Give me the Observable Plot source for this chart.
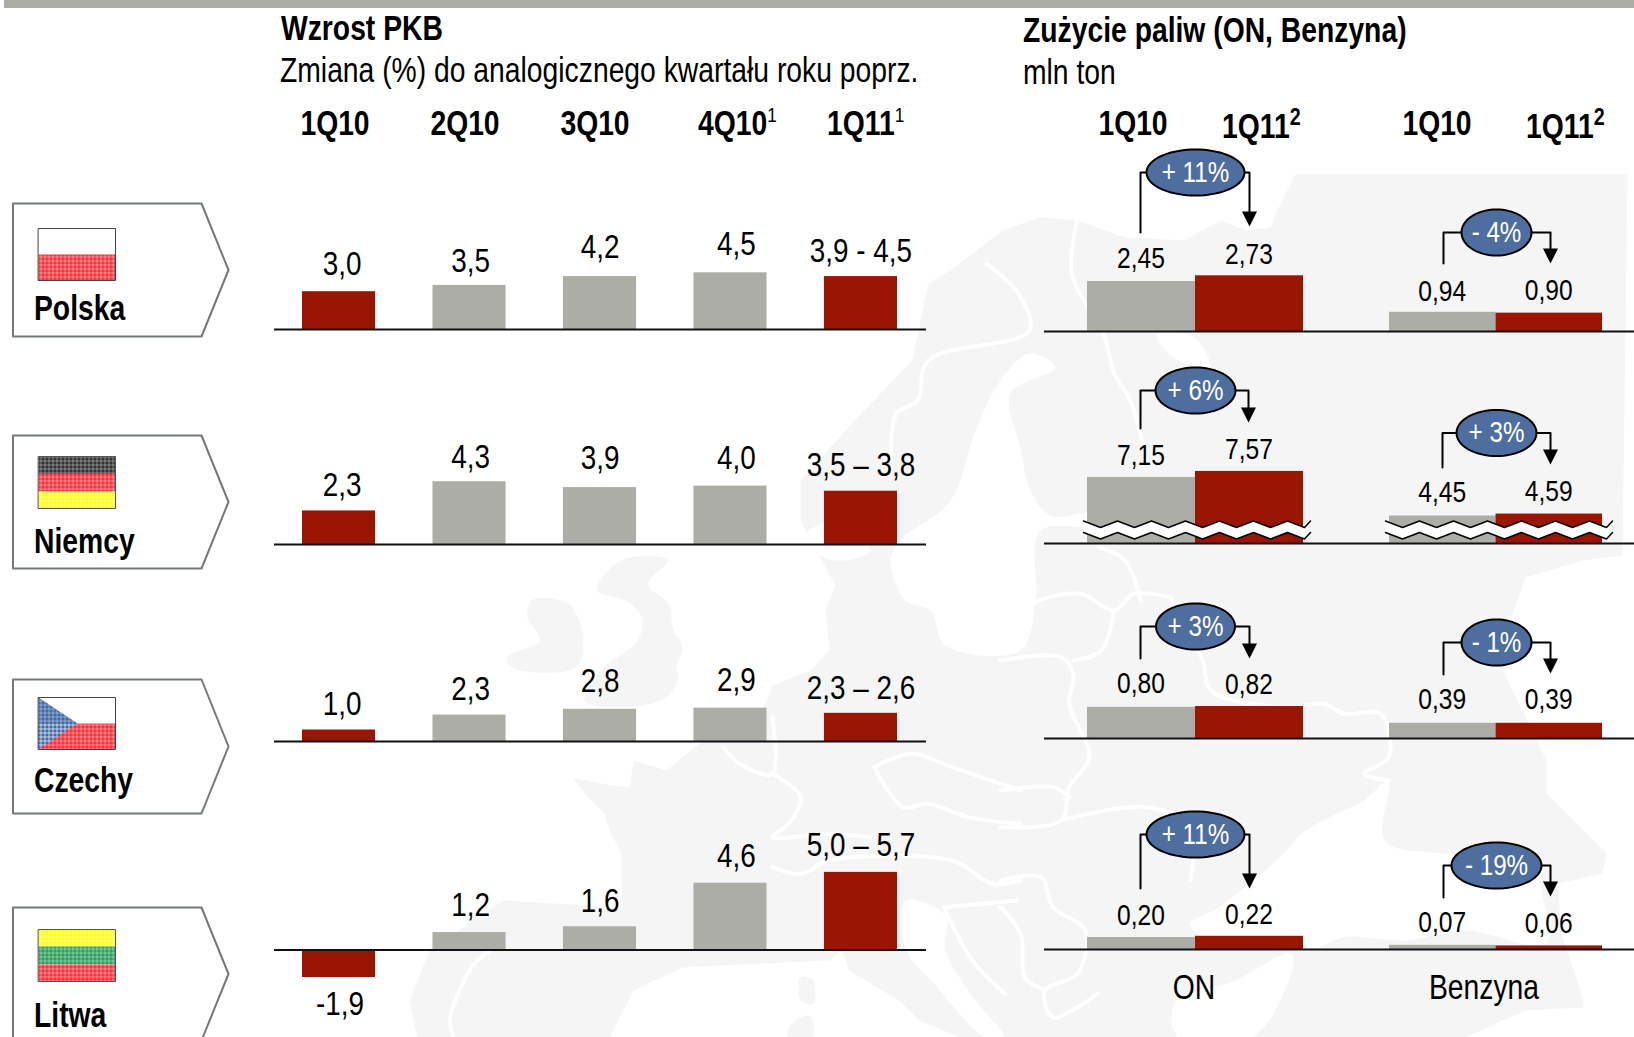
<!DOCTYPE html>
<html lang="pl">
<head>
<meta charset="utf-8">
<script src="https://cdn.jsdelivr.net/npm/d3@7"></script>
<script src="https://cdn.jsdelivr.net/npm/@observablehq/plot@0.6"></script>
<style>
  html,body{margin:0;padding:0;background:#fff;}
  body{width:1634px;height:1037px;overflow:hidden;position:relative;font-family:"Liberation Sans",sans-serif;color:#000;}
  .layer{position:absolute;}
  .layer svg{overflow:visible;display:block;}
  .t{position:absolute;white-space:nowrap;line-height:1;font-size:34.5px;transform-origin:left center;transform:scaleX(.82);}
  .t.c{transform-origin:center;transform:translateX(-50%) scaleX(.82);}
  .b{font-weight:700;}
  sup{font-size:21px;font-weight:400;line-height:0;vertical-align:baseline;position:relative;top:-13px;}
  sup.b{font-weight:700;font-size:24px;}
</style>
</head>
<body>
<svg width="0" height="0" style="position:absolute">
  <defs><pattern id="halftone" width="4" height="4" patternUnits="userSpaceOnUse">
    <path d="M0 .5H4M.5 0V4" stroke="#fff" stroke-opacity=".38" stroke-width="1"/>
  </pattern></defs>
</svg>
<script>
// ---------- chart values ----------
const quarters = ["1Q10","2Q10","3Q10","4Q10","1Q11"];
const countries = ["Polska","Niemcy","Czechy","Litwa"];
const gdpPolska = [3.0,3.5,4.2,4.5,4.2];
const gdpNiemcy = [2.3,4.3,3.9,4.0,3.65];
const gdpCzechy = [1.0,2.3,2.8,2.9,2.45];
const gdpLitwa  = [-1.9,1.2,1.6,4.6,5.35];
const gdpLabelsPolska = ["3,0","3,5","4,2","4,5","3,9 - 4,5"];
const gdpLabelsNiemcy = ["2,3","4,3","3,9","4,0","3,5 – 3,8"];
const gdpLabelsCzechy = ["1,0","2,3","2,8","2,9","2,3 – 2,6"];
const gdpLabelsLitwa  = ["-1,9","1,2","1,6","4,6","5,0 – 5,7"];
const fuelPeriods = ["1Q10","1Q11"];
const onValues = [[2.45,2.73],[7.15,7.57],[0.80,0.82],[0.20,0.22]];
const benzynaValues = [[0.94,0.90],[4.45,4.59],[0.39,0.39],[0.07,0.06]];
const onChanges = ["+ 11%","+ 6%","+ 3%","+ 11%"];
const benzynaChanges = ["- 4%","+ 3%","- 1%","- 19%"];
const fmt = v => v.toFixed(2).replace(".",",");

// ---------- colours & layout (not data) ----------
const GREY="#ADADA8", RED="#9B1602", BLUE="#4D6E9E", LAND="#F5F5F5";
const FONT='"Liberation Sans",sans-serif', FS=34.5;
const barColors = [RED,GREY,GREY,GREY,RED];
const gdpRows = [
  {vals:gdpPolska,labels:gdpLabelsPolska,base:329,k:12.6,lift:[17,13,19,18,15],nudge:[3,1,0,6,0]},
  {vals:gdpNiemcy,labels:gdpLabelsNiemcy,base:544,k:14.6,lift:[15,14,19,17,15],nudge:[3,1,0,6,0]},
  {vals:gdpCzechy,labels:gdpLabelsCzechy,base:741,k:11.5,lift:[15,15,17,17,14],nudge:[3,1,0,6,0]},
  {vals:gdpLitwa,labels:gdpLabelsLitwa,base:949,k:14.5,lift:[-37,17,15,16,16],nudge:[1,1,0,6,0]}
];
const fuelRows = [
  {base:331,k:20.4,lo:0,lift:[[13.5,11.5],[11,13]]},
  {base:543,k:14.3,lo:2.53,lift:[[12,12],[14,13]]},
  {base:738,k:39,lo:0,lift:[[14,13],[14,14]]},
  {base:949,k:60,lo:0,lift:[[13,12],[13,13]]}
];

function addPlot(left, top, el){ el.classList.add("layer"); el.style.left=left+"px"; el.style.top=top+"px"; document.body.appendChild(el); }
function label(html,x,baseline,opts={}){
  const d=document.createElement("div");
  d.className="t"+(opts.bold?" b":"")+(opts.center?" c":"");
  d.innerHTML=html;
  d.style.left=x+"px";
  d.style.top=(baseline+1-FS*0.8465)+"px";
  document.body.appendChild(d);
}

// ---------- background map (decoration, hand traced) ----------
const z6=a=>a.map(([x,y])=>[800+x/1.88,160+y/3]);
const z7=a=>a.map(([x,y])=>[380+x/2.45,560+y/3]);
const z8=a=>a.map(([x,y])=>[1000+x/2.473,560+y/3]);
const mainland=[
 ...z6([[240,370],[290,320],[380,210],[450,170],[520,180],[610,230],[720,240],[790,180],[840,210],[885,200],[890,170],[930,42]]),
 [1627,174],[1622,555],[1582,560],[1525,577],[1513,610],[1501,667],[1546,760],[1546,793],[1606,853],[1602,873],[1558,883],[1560,930],[1582,997],[1582,1007],[1525,1010],[1465,1037],
 [1004,1037],[960,1037],[919,1020],[898,1000],[849,970],[841,950],[829,960],[720,965],[682,967],[633,990],[609,1037],[417,1037],[409,1000],[429,950],[502,900],[621,907],[621,877],[621,853],[609,830],[604,813],[584,793],[572,777],[600,783],[629,787],[633,760],[666,770],[694,747],[702,740],[760,715],[772,685],[810,670],[829,650],[825,610],[835,585],[800,520],[800,480],[854,420],[912,360]
];
const landExtras=[
  z7([[370,120],[360,170],[390,240],[310,290],[320,320],[480,320],[495,220],[460,130]]), // Irlandia
  z7([[590,0],[705,0],[655,70],[705,130],[718,210],[740,260],[725,320],[730,350],[700,410],[600,440],[500,420],[540,330],[630,240],[640,170],[600,120],[530,90]]), // Wielka Brytania
  z7([[1030,1250],[1060,1260],[1060,1330],[1030,1320]]), z7([[1000,1400],[1050,1365],[1060,1430],[1000,1430]])
];
const seas=[
  [[1029,353],[1055,367],[1010,393],[1020,447],[1030,490],[1050,515],[1100,512],[1100,525],[1040,530],[1035,600],[1020,650],[945,645],[930,610],[905,600],[890,560],[900,540],[950,500],[975,430],[1000,380]], // Bałtyk
  [[905,900],[945,915],[945,950],[975,1000],[1004,1037],[985,1037],[935,985],[906,950]], // Adriatyk
  z8([[960,660],[900,720],[830,760],[745,820],[695,885],[540,1040],[470,1090],[500,1130],[760,1170],[850,1130],[1000,1140],[1150,1110],[1350,1150],[1340,1000],[1330,900],[1100,880],[950,840]]), // M. Czarne
  z8([[720,1180],[580,1260],[430,1330],[440,1431],[620,1431],[700,1300]]), // Egejskie
  z6([[670,520],[740,530],[770,620],[700,590]]), // M. Białe
  [[800,540],[835,560],[870,550],[835,520]]
];
const borders=[
 z8([[60,140],[120,110],[200,100],[280,150],[330,100],[420,110]]),
 z8([[0,300],[150,290],[180,340],[170,430],[220,590],[170,680],[150,780],[0,800]]),
 z8([[280,150],[250,270],[180,300]]),
 z8([[420,110],[500,300],[520,390],[700,440],[800,430],[850,460],[940,460],[960,590],[900,640],[960,660]]),
 z8([[150,780],[360,740],[470,800],[470,960]]),
 z8([[0,690],[130,680],[170,710]]),
 z8([[0,960],[100,950],[130,1040],[210,1110],[190,1240],[110,1290],[130,1370],[240,1300]]),
 z8([[0,1040],[50,1120],[60,1250],[110,1290]]),
 z7([[840,560],[880,610],[960,640],[960,470]]),
 z7([[960,640],[1030,710],[1000,790],[960,830],[1100,820],[1200,830]]),
 z7([[1210,620],[1300,580],[1400,620],[1568,690]]),
 z7([[1210,620],[1280,740],[1340,730],[1440,770],[1568,790]]),
 z7([[960,920],[1030,940],[1100,900],[1400,900],[1500,970],[1568,960]]),
 z7([[180,1431],[170,1380],[190,1300],[230,1210],[270,1170]]),
 z7([[1380,1040],[1560,1020]]), z7([[1380,1040],[1450,1200],[1530,1300]]),
 z6([[350,310],[410,400],[430,510],[240,600],[220,720],[180,760],[170,900]]),
 z6([[520,180],[510,340],[570,520],[590,640],[620,720],[650,900]]),
 z6([[560,1160],[610,1200],[640,1320]])
];
const px={x:{type:"identity",axis:null},y:{type:"identity",axis:null}};
const poly=(pts,o)=>Plot.line(pts,{x:d=>d[0],y:d=>d[1],curve:"linear-closed",...o});
const open=(pts,o)=>Plot.line(pts,{x:d=>d[0],y:d=>d[1],...o});
addPlot(0,0,Plot.plot({width:1634,height:1037,margin:0,...px,style:{background:"transparent"},marks:[
  poly(mainland,{fill:LAND,stroke:"none"}),
  ...landExtras.map(p=>poly(p,{fill:LAND,stroke:"none",curve:"catmull-rom-closed"})),
  ...seas.map(p=>poly(p,{fill:"#fff",stroke:"none",curve:"catmull-rom-closed"})),
  ...borders.map(p=>open(p,{stroke:"#fff",strokeWidth:4,strokeLinejoin:"round",curve:"catmull-rom"}))
]}));

// ---------- GDP rows ----------
gdpRows.forEach(r=>{
  const h=Math.round((Math.max(...r.vals)+6-Math.min(0,...r.vals))*r.k)+20;
  const lo=Math.min(0,...r.vals)-20/r.k, hi=lo+h/r.k;
  const data=quarters.map((q,i)=>({q,v:r.vals[i],label:r.labels[i],color:barColors[i],lift:r.lift[i],nudge:r.nudge[i]}));
  addPlot(274,r.base-Math.round(hi*r.k),Plot.plot({
    width:652,height:h,margin:0,
    x:{type:"band",domain:quarters,range:[28,623],paddingInner:0.44,paddingOuter:0,round:false,axis:null},
    y:{domain:[lo,hi],range:[h,0],axis:null},
    style:{background:"transparent",overflow:"visible"},
    marks:[
      Plot.barY(data,{x:"q",y:"v",fill:"color"}),
      Plot.ruleY([0],{stroke:"#111",strokeWidth:2}),
      ...data.map(d=>Plot.text([d],{x:"q",y:"v",text:"label",fill:"#000",fontSize:34,fontFamily:FONT,lineAnchor:"bottom",dy:-d.lift,dx:d.nudge}))
    ]
  }));
});

// ---------- fuel rows ----------
const fuelPanels=[
  {vals:onValues,left:1044,width:302,range:[43,259]},
  {vals:benzynaValues,left:1346,width:288,range:[43,256]}
];
fuelRows.forEach((r,ri)=>{
  fuelPanels.forEach((p,pi)=>{
    const vs=p.vals[ri];
    const h=Math.round((Math.max(...vs)-r.lo)*r.k)+60;
    const data=fuelPeriods.map((q,i)=>({q,v:vs[i],label:fmt(vs[i]),color:i?RED:GREY,lift:r.lift[pi][i]}));
    addPlot(p.left,r.base-h,Plot.plot({
      width:p.width,height:h,margin:0,
      x:{type:"band",domain:fuelPeriods,range:p.range,padding:0,round:false,axis:null},
      y:{domain:[r.lo,r.lo+h/r.k],range:[h,0],axis:null},
      style:{background:"transparent",overflow:"visible"},
      marks:[
        Plot.rectY(data,{x:"q",y1:r.lo,y2:"v",fill:"color"}),
        Plot.ruleY([r.lo],{stroke:"#111",strokeWidth:2}),
        ...data.map(d=>Plot.text([d],{x:"q",y:"v",text:"label",fill:"#000",fontSize:30,fontFamily:FONT,lineAnchor:"bottom",dy:-d.lift,dx:-0.5}))
      ]
    }));
  });
});

// ---------- annotation overlay: callouts, breaks, country tabs, flags ----------
const calloutLayout=[
  {t:onChanges[0],cx:1195,cy:172,rx:49,ry:23,l:1140,lb:232,r:1249,tip:226},
  {t:benzynaChanges[0],cx:1496,cy:232,rx:35,ry:23,l:1443,lb:263,r:1550,tip:263},
  {t:onChanges[1],cx:1195,cy:390,rx:40,ry:23,l:1140,lb:428,r:1248,tip:422},
  {t:benzynaChanges[1],cx:1496,cy:432.5,rx:40,ry:23,l:1442,lb:467,r:1550,tip:464},
  {t:onChanges[2],cx:1195,cy:626,rx:39.5,ry:23,l:1140,lb:658,r:1249,tip:658},
  {t:benzynaChanges[2],cx:1496,cy:642,rx:35,ry:23,l:1443,lb:674,r:1550,tip:673},
  {t:onChanges[3],cx:1195,cy:834,rx:49,ry:23,l:1140,lb:888,r:1249,tip:888},
  {t:benzynaChanges[3],cx:1496,cy:865,rx:45,ry:23,l:1443,lb:897,r:1550,tip:896}
];
const ellipsePts=(c)=>d3.range(0,360,5).map(a=>[c.cx+c.rx*Math.cos(a*Math.PI/180),c.cy+c.ry*Math.sin(a*Math.PI/180)]);
const calloutMarks=calloutLayout.flatMap(c=>[
  open([[c.l,c.lb],[c.l,c.cy],[c.cx,c.cy]],{stroke:"#000",strokeWidth:2}),
  open([[c.cx,c.cy],[c.r,c.cy],[c.r,c.tip-10]],{stroke:"#000",strokeWidth:2}),
  poly([[c.r-7.5,c.tip-15],[c.r+7.5,c.tip-15],[c.r,c.tip]],{fill:"#000",stroke:"none"}),
  poly(ellipsePts(c),{fill:BLUE,stroke:"#000",strokeWidth:2}),
  Plot.text([c],{x:"cx",y:"cy",text:"t",fill:"#fff",fontSize:29.5,fontFamily:FONT,dy:0})
]);

function zig(x0,x1,y){const pts=[];let i=0;for(let x=x0;x<x1;x+=17,i++)pts.push([x,y+(i%2?6.5:0)]);pts.push([x1,y]);return pts;}
function brk(x0,x1){
  const top=zig(x0,x1,520.5), bot=zig(x0,x1,532);
  return [
    poly([...top,...bot.slice().reverse()],{fill:"#fff",stroke:"none"}),
    open(top,{stroke:"#000",strokeWidth:1.5}), open(bot,{stroke:"#000",strokeWidth:1.5})
  ];
}

const tabs=[{y0:203,y1:336},{y0:435,y1:568},{y0:679,y1:813},{y0:907,y1:1040}];
const tabMarks=tabs.map(t=>poly([[12.5,t.y0],[201,t.y0],[228,(t.y0+t.y1)/2],[201,t.y1],[12.5,t.y1]],{fill:"#fff",stroke:"#73787A",strokeWidth:2}));
const FX0=38,FX1=115;
const band=(y0,y1,c)=>poly([[FX0,y0],[FX1,y0],[FX1,y1],[FX0,y1]],{fill:c,stroke:"none"});
const frame=(y0,y1,s="url(#halftone)")=>[
  poly([[FX0,y0],[FX1,y0],[FX1,y1],[FX0,y1]],{fill:s,stroke:"#555",strokeWidth:1})
];
const FR="#F7323C";
const flagMarks=[
  band(228,254,"#fff"),band(254,280,FR),poly([[FX0,254],[FX1,254],[FX1,280],[FX0,280]],{fill:"url(#halftone)",stroke:"none"}),
  poly([[FX0,228],[FX1,228],[FX1,280],[FX0,280]],{fill:"none",stroke:"#444",strokeWidth:1}),
  band(456,473.5,"#333"),band(473.5,491,FR),band(491,508,"#FFFF1E"),...frame(456,508),
  band(697,723,"#fff"),band(723,749,FR),poly([[FX0,697],[77,723],[FX0,749]],{fill:"#3F69A8",stroke:"none"}),
  poly([[FX0,697],[77,723],[FX0,749]],{fill:"url(#halftone)",stroke:"none"}),
  poly([[FX0,723],[FX1,723],[FX1,749],[FX0,749]],{fill:"url(#halftone)",stroke:"none"}),
  poly([[FX0,697],[FX1,697],[FX1,749],[FX0,749]],{fill:"none",stroke:"#444",strokeWidth:1}),
  band(929,946,"#FFFF1E"),band(946,964,"#2F9E5C"),band(964,981,FR),...frame(929,981)
];
addPlot(0,0,Plot.plot({width:1634,height:1037,margin:0,...px,style:{background:"transparent"},marks:[
  ...brk(1083,1310),...brk(1385,1612),
  ...calloutMarks,...tabMarks,...flagMarks,
  Plot.rect([0],{x1:4,x2:1634,y1:0,y2:8,fill:GREY})
]}));

// narrow all chart text the way the original's condensed face looks
d3.selectAll("svg text").each(function(){
  const t=this.getAttribute("transform")||"";
  this.setAttribute("transform",t+" scale(.82,1)");
});

// ---------- texts ----------
label("Wzrost PKB",281,39,{bold:true});
label("Zmiana (%) do analogicznego kwartału roku poprz.",280,81);
label("Zużycie paliw (ON, Benzyna)",1023,41,{bold:true});
label("mln ton",1023,83);
[[0,335],[1,465],[2,595]].forEach(([i,x])=>label(quarters[i],x,134,{bold:true,center:true}));
label(quarters[3]+"<sup>1</sup>",698,134,{bold:true});
label(quarters[4]+"<sup>1</sup>",827,134,{bold:true});
label(fuelPeriods[0],1133,134,{bold:true,center:true});
label(fuelPeriods[1]+'<sup class="b">2</sup>',1222,137,{bold:true});
label(fuelPeriods[0],1437,134,{bold:true,center:true});
label(fuelPeriods[1]+'<sup class="b">2</sup>',1526,137,{bold:true});
label("ON",1194,998,{center:true});
label("Benzyna",1484,998,{center:true});
[[0,319],[1,552],[2,791],[3,1026]].forEach(([i,b])=>label(countries[i],34,b,{bold:true}));
</script>
</body>
</html>
